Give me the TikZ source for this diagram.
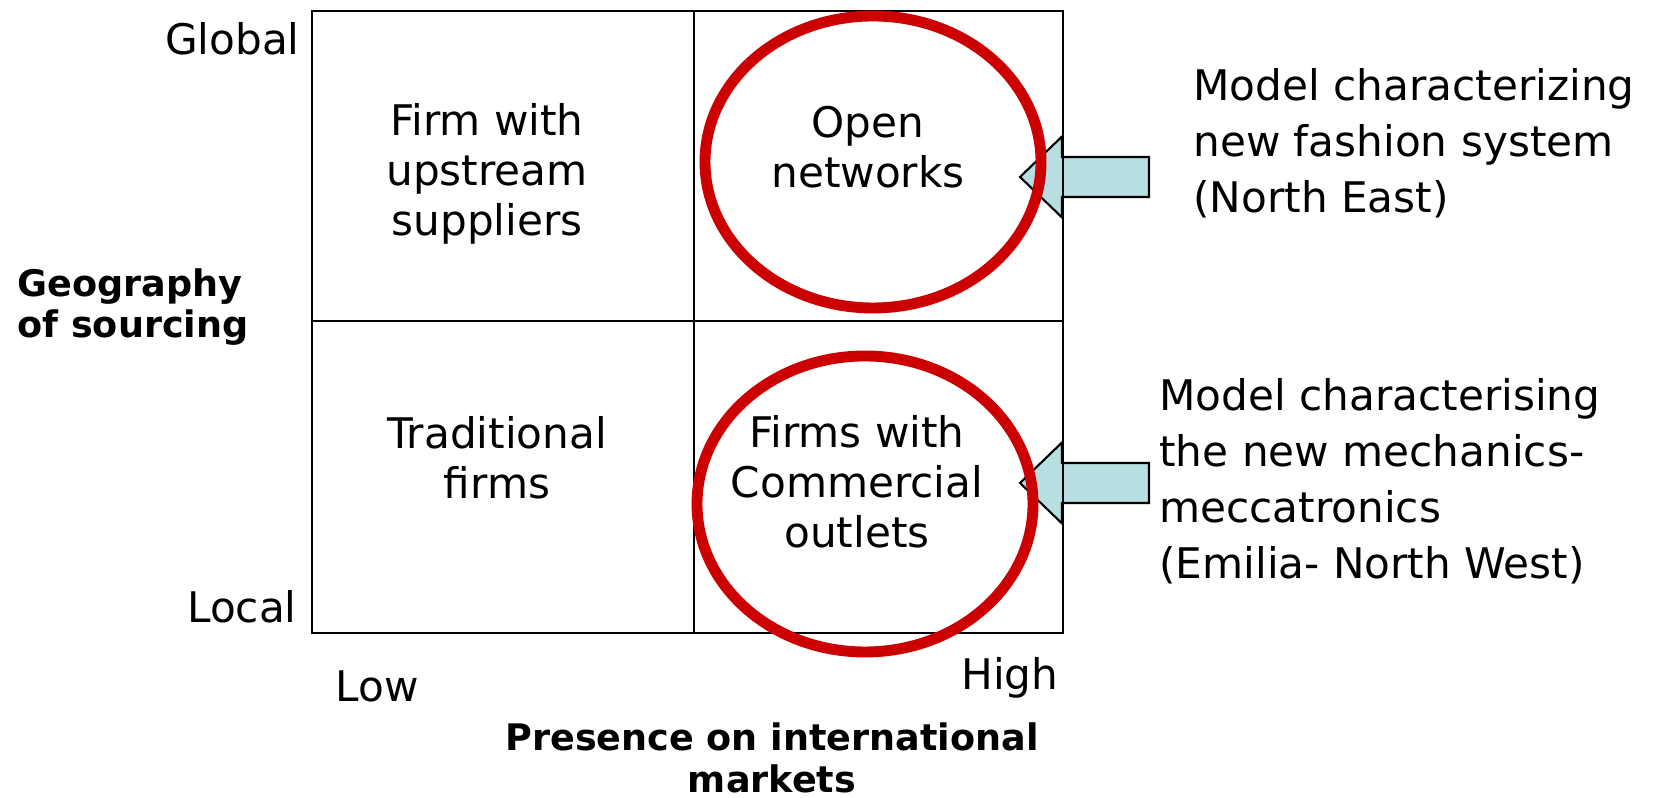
\documentclass[tikz,border=0pt]{standalone}
\usepackage{fontspec}
\setmainfont{DejaVu Sans}
\definecolor{ringred}{HTML}{CC0000}
\definecolor{arrowblue}{HTML}{B7DFE1}
\tikzset{
  cell/.style={align=center, font=\fontsize{12}{14.2}\selectfont},
  note/.style={align=left, anchor=west, font=\fontsize{12}{15.9}\selectfont},
  level/.style={font=\fontsize{12}{14}\selectfont},
  axistitle/.style={font=\bfseries\fontsize{10.4}{11.8}\selectfont},
  ring/.style={draw=ringred, line width=3.1pt},
  blockarrow/.style={draw=black, fill=arrowblue, line width=0.6pt}
}

\begin{document}
\begin{tikzpicture}
    \useasboundingbox (0,0) rectangle (16.72,7.98);

    % Block arrows
    \foreach \y in {6.21,3.15} {
        \draw[blockarrow] (10.20,\y) -- (10.62,\y+0.405) -- (10.62,\y+0.20)
            -- (11.49,\y+0.20) -- (11.49,\y-0.20) -- (10.62,\y-0.20)
            -- (10.62,\y-0.405) -- cycle;
    }

    % Matrix
    \draw[line width=0.7pt] (3.12,1.65) rectangle (10.63,7.87);
    \draw[line width=0.7pt] (6.94,1.65) -- (6.94,7.87);
    \draw[line width=0.7pt] (3.12,4.77) -- (10.63,4.77);

    % Rings
    \draw[ring] (8.73,6.36) ellipse (1.68 and 1.46);
    \draw[ring] (8.65,2.94) ellipse (1.68 and 1.48);

    % Cells
    \node[cell] (upstream) at (4.87,6.24) {Firm with\\upstream\\suppliers};
    \node[cell] (open) at (8.68,6.51) {Open\\networks};
    \node[cell] (traditional) at (4.97,3.40) {Traditional\\firms};
    \node[cell] (outlets) at (8.57,3.16) {Firms with\\Commercial\\outlets};

    % Axis labels
    \node[level, anchor=east] (global) at (3.12,7.59) {Global};
    \node[level, anchor=east] (local) at (3.09,1.91) {Local};
    \node[level] (low) at (3.77,1.12) {Low};
    \node[level] (high) at (10.10,1.20) {High};
    \node[axistitle, align=left, anchor=west] (sourcing) at (0.05,4.91) {Geography\\of sourcing};
    \node[axistitle, align=center] (markets) at (7.72,0.40) {Presence on international\\markets};

    % Notes
    \node[note] (fashion) at (11.81,6.55) {Model characterizing\\new fashion system\\(North East)};
    \node[note] (mechanics) at (11.47,3.17) {Model characterising\\the new mechanics-\\meccatronics\\(Emilia- North West)};
\end{tikzpicture}
\end{document}
